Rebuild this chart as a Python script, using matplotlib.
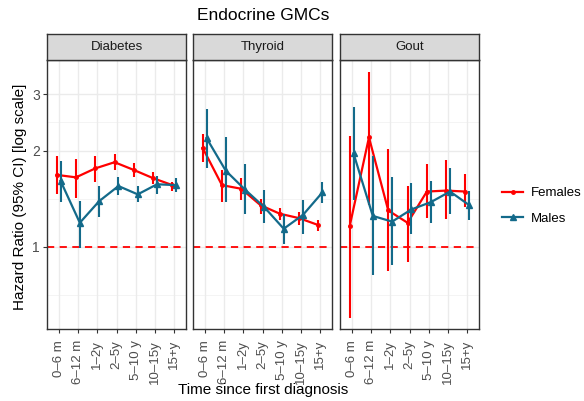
import numpy as np
import matplotlib
matplotlib.use("Agg")
import matplotlib.pyplot as plt
from matplotlib.lines import Line2D

plt.rcParams['font.family'] = ['Liberation Sans', 'DejaVu Sans']

# categories and panels
periods = ["0–6 m", "6–12 m", "1–2y", "2–5y", "5–10 y", "10–15y", "15+y"]
panels = ["Diabetes", "Thyroid", "Gout"]

# hazard ratios (estimate, lower, upper)
fem_hr = {
    "Diabetes": [1.68, 1.65, 1.76, 1.84, 1.74, 1.64, 1.56],
    "Thyroid":  [2.04, 1.56, 1.52, 1.35, 1.27, 1.23, 1.17],
    "Gout":     [1.16, 2.20, 1.30, 1.19, 1.49, 1.50, 1.49],
}
fem_lo = {
    "Diabetes": [1.46, 1.42, 1.60, 1.74, 1.66, 1.57, 1.50],
    "Thyroid":  [1.84, 1.38, 1.40, 1.27, 1.21, 1.17, 1.12],
    "Gout":     [0.60, 1.35, 0.84, 0.90, 1.23, 1.22, 1.33],
}
fem_hi = {
    "Diabetes": [1.93, 1.88, 1.93, 1.95, 1.83, 1.72, 1.60],
    "Thyroid":  [2.25, 1.74, 1.64, 1.41, 1.32, 1.29, 1.21],
    "Gout":     [2.22, 3.53, 2.03, 1.55, 1.82, 1.87, 1.69],
}
male_hr = {
    "Diabetes": [1.61, 1.19, 1.39, 1.55, 1.46, 1.57, 1.56],
    "Thyroid":  [2.19, 1.73, 1.51, 1.33, 1.14, 1.26, 1.48],
    "Gout":     [1.96, 1.25, 1.20, 1.31, 1.38, 1.49, 1.35],
}
male_lo = {
    "Diabetes": [1.38, 0.99, 1.24, 1.45, 1.38, 1.46, 1.49],
    "Thyroid":  [1.76, 1.38, 1.27, 1.19, 1.02, 1.10, 1.37],
    "Gout":     [1.40, 0.82, 0.88, 1.10, 1.19, 1.27, 1.21],
}
male_hi = {
    "Diabetes": [1.86, 1.39, 1.55, 1.66, 1.55, 1.67, 1.64],
    "Thyroid":  [2.69, 2.20, 1.82, 1.51, 1.27, 1.40, 1.60],
    "Gout":     [2.74, 1.92, 1.65, 1.58, 1.61, 1.76, 1.50],
}

red = "#FF0000"
blue = "#136A8A"

W, H = 584, 401
fig = plt.figure(figsize=(W / 100, H / 100), dpi=100)

ax_left = [47, 193, 340]
ax_w = 139
ax_top, ax_bot, strip_top = 60, 329, 34

x = np.arange(len(periods))
dodge = 0.1

for i, name in enumerate(panels):
    ax = fig.add_axes([ax_left[i] / W, 1 - ax_bot / H, ax_w / W, (ax_bot - ax_top) / H])
    ax.set_yscale("log")
    ax.set_ylim(0.554, 3.84)
    ax.set_xlim(-0.6, len(periods) - 0.4)

    # grid
    for v in [1, 2, 3]:
        ax.axhline(v, color="#EBEBEB", lw=1.0, zorder=0)
    for v in [np.sqrt(0.5), np.sqrt(2), np.sqrt(6)]:
        ax.axhline(v, color="#F2F2F2", lw=0.6, zorder=0)
    for xi in x:
        ax.axvline(xi, color="#EBEBEB", lw=1.0, zorder=0)

    ax.axhline(1, color=red, lw=1.3, ls=(0, (4, 3)), zorder=1)

    xf = x - dodge
    xm = x + dodge
    ax.vlines(xf, fem_lo[name], fem_hi[name], color=red, lw=1.5, zorder=2)
    ax.plot(xf, fem_hr[name], color=red, lw=1.6, marker="o", ms=2.5, zorder=3)
    ax.vlines(xm, male_lo[name], male_hi[name], color=blue, lw=1.5, zorder=4)
    ax.plot(xm, male_hr[name], color=blue, lw=1.6, marker="^", ms=4, zorder=5)

    ax.set_xticks(x)
    ax.set_xticklabels(periods, rotation=90, fontsize=9.5, color="#4D4D4D")
    ax.yaxis.set_minor_locator(matplotlib.ticker.NullLocator())
    ax.set_yticks([1, 2, 3])
    ax.tick_params(axis="both", color="#333333", length=3, width=0.8, pad=2)
    ax.tick_params(axis="x", pad=5)
    if i == 0:
        ax.set_yticklabels(["1", "2", "3"], fontsize=10, color="#4D4D4D")
    else:
        ax.set_yticklabels([])
        ax.tick_params(axis="y", length=0)
    for s in ax.spines.values():
        s.set_color("#333333")
        s.set_linewidth(1.0)

    # facet strip
    sx = fig.add_axes([ax_left[i] / W, 1 - ax_top / H, ax_w / W, (ax_top - strip_top) / H])
    sx.set_facecolor("#D9D9D9")
    sx.set_xticks([])
    sx.set_yticks([])
    for s in sx.spines.values():
        s.set_color("#333333")
        s.set_linewidth(1.0)
    sx.text(0.5, 0.5, name, ha="center", va="center", fontsize=9.5, color="#1A1A1A",
            transform=sx.transAxes)

fig.text(263 / W, 1 - 16 / H, "Endocrine GMCs", ha="center", va="center", fontsize=12.5)
fig.text(263 / W, 1 - 390 / H, "Time since first diagnosis", ha="center", va="center", fontsize=11)
fig.text(20 / W, 1 - 197 / H, "Hazard Ratio (95% CI) [log scale]", ha="center", va="center",
         rotation=90, fontsize=11)

handles = [Line2D([], [], color=red, lw=1.6, marker="o", ms=2.5),
           Line2D([], [], color=blue, lw=1.6, marker="^", ms=4)]
fig.legend(handles, ["Females", "Males"], loc="center left",
           bbox_to_anchor=(497 / W, 1 - 206 / H), frameon=False, fontsize=9.5,
           handlelength=1.6, handletextpad=0.6, labelspacing=1.0, borderaxespad=0)

fig.savefig("out.png", dpi=100)
